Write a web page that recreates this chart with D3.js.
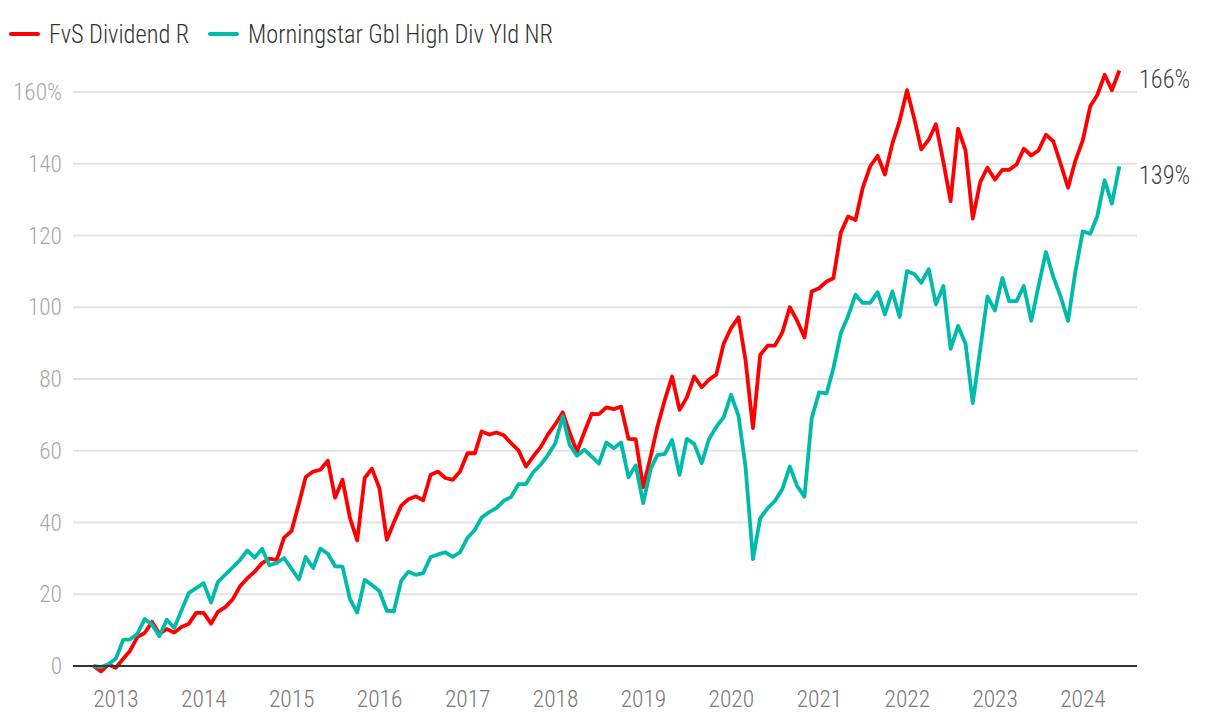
<!DOCTYPE html>
<html>
<head>
<meta charset="utf-8">
<script src="https://cdn.jsdelivr.net/npm/d3@7"></script>
<style>
  html, body { margin: 0; padding: 0; background: #fff; }
  svg { display: block; }
</style>
</head>
<body>
<svg id="chart" width="1220" height="726"></svg>
<script>
// ---------------- DATA ----------------
const seriesNames = ["FvS Dividend R", "Morningstar Gbl High Div Yld NR"];
const startMonth = "2012-09"; // first month-end observation (Sep 2012)
const fundValues = [
  0, -1.5, 0.4, -0.5, 2.0, 4.2, 8.1, 9.2, 12.3, 9.0, 10.3, 9.3, 10.9, 11.8, 14.8, 14.8,
  11.8, 15.1, 16.4, 18.5, 22.2, 24.4, 26.3, 28.7, 29.9, 29.6, 35.8, 37.6, 45.3, 52.7, 54.2, 54.7,
  57.2, 46.9, 51.9, 41.2, 35.0, 52.4, 55.0, 49.6, 35.2, 40.0, 44.7, 46.5, 47.3, 46.2, 53.3, 54.2,
  52.4, 51.9, 54.2, 59.3, 59.3, 65.4, 64.5, 65.1, 64.3, 62.1, 60.1, 55.6, 58.4, 61.0, 64.5, 67.4,
  70.7, 65.1, 59.8, 65.1, 70.3, 70.2, 72.1, 71.6, 72.3, 63.3, 63.2, 49.8, 58.4, 66.7, 74.2, 80.7,
  71.4, 74.8, 80.7, 77.7, 79.8, 81.3, 89.8, 94.2, 97.2, 85.3, 66.3, 86.7, 89.3, 89.3, 93.0, 100.0,
  96.3, 91.6, 104.4, 105.3, 107.2, 108.1, 120.8, 125.3, 124.3, 133.3, 139.3, 142.2, 137.0, 145.6, 151.9, 160.5,
  152.3, 144.0, 146.7, 151.0, 140.5, 129.6, 149.8, 143.7, 124.7, 134.9, 138.9, 135.6, 138.3, 138.3, 139.8, 144.2,
  142.3, 143.7, 148.1, 146.2, 140.0, 133.3, 140.8, 146.5, 156.0, 159.1, 164.8, 160.5, 166.0
];
const indexValues = [
  0, -0.3, 0.5, 2.0, 7.3, 7.4, 9.0, 13.1, 11.5, 8.3, 12.9, 10.6, 15.5, 20.4, 21.7, 23.1,
  17.7, 23.4, 25.5, 27.4, 29.5, 32.2, 30.2, 32.7, 28.1, 28.7, 30.1, 27.1, 24.1, 30.4, 27.3, 32.7,
  31.3, 27.8, 27.7, 18.6, 14.9, 24.0, 22.6, 20.9, 15.4, 15.2, 23.8, 26.3, 25.4, 25.9, 30.4, 31.1,
  31.7, 30.4, 31.7, 35.7, 38.0, 41.4, 42.9, 44.0, 46.1, 47.1, 50.7, 50.7, 54.0, 56.1, 58.8, 62.1,
  69.6, 61.7, 58.6, 60.3, 58.4, 56.4, 62.3, 60.7, 62.3, 52.6, 55.9, 45.4, 54.9, 58.8, 59.1, 63.0,
  53.3, 63.3, 61.9, 56.5, 63.2, 66.7, 69.3, 75.6, 69.7, 55.6, 29.8, 41.2, 44.0, 46.0, 49.3, 55.6,
  50.2, 47.2, 69.1, 76.3, 76.0, 83.0, 92.8, 97.5, 103.5, 101.2, 101.2, 104.2, 98.0, 104.4, 97.3, 110.1,
  109.2, 106.8, 110.6, 100.8, 105.9, 88.4, 94.8, 89.8, 73.3, 88.2, 103.0, 99.1, 108.2, 101.7, 101.7, 105.9,
  96.2, 105.8, 115.4, 108.4, 103.0, 96.2, 109.8, 121.2, 120.5, 125.3, 135.4, 128.9, 139.3
];
const yTicks = [0, 20, 40, 60, 80, 100, 120, 140, 160];
const xTickYears = [2013, 2014, 2015, 2016, 2017, 2018, 2019, 2020, 2021, 2022, 2023, 2024];
const endLabels = ["166%", "139%"];

// ---------------- STYLE ----------------
const colors = ["#ff0000", "#00bba9"];
const FONT = "'Roboto Condensed','Liberation Sans Narrow','DejaVu Sans Condensed','Arial Narrow',Roboto,sans-serif";

// month-end dates
const parse = d3.timeParse("%Y-%m");
const firstMonth = parse(startMonth);
const dates = fundValues.map((_, i) => d3.timeDay.offset(d3.timeMonth.offset(firstMonth, i + 1), -1));

const svg = d3.select("#chart");
const plotLeft = 73, plotRight = 1137;

const x = d3.scaleTime()
  .domain([new Date(2013, 0, 1), new Date(2024, 0, 1)])
  .range([116, 1083]);
const y = d3.scaleLinear().domain([0, 160]).range([666, 92]);

// gridlines
svg.append("g").selectAll("line").data(yTicks.filter(d => d !== 0)).join("line")
  .attr("x1", plotLeft).attr("x2", plotRight)
  .attr("y1", d => y(d)).attr("y2", d => y(d))
  .attr("stroke", "#e3e3e3").attr("stroke-width", 2);

// y labels
svg.append("g").selectAll("text").data(yTicks).join("text")
  .attr("x", 62).attr("y", d => y(d))
  .attr("text-anchor", "end").attr("dominant-baseline", "central")
  .attr("font-family", FONT).attr("font-size", 24).attr("font-weight", 300)
  .attr("fill", "#a8a8a8")
  .text(d => d === 160 ? d + "%" : d);

// x labels
svg.append("g").selectAll("text").data(xTickYears).join("text")
  .attr("x", d => x(new Date(d, 0, 1))).attr("y", 707)
  .attr("text-anchor", "middle")
  .attr("font-family", FONT).attr("font-size", 24).attr("font-weight", 300)
  .attr("fill", "#777")
  .text(d => d);

// lines
const line = d3.line().x((d, i) => x(dates[i])).y(d => y(d));
[fundValues, indexValues].forEach((vals, k) => {
  svg.append("path").datum(vals)
    .attr("d", line)
    .attr("fill", "none")
    .attr("stroke", colors[k])
    .attr("stroke-width", 3.8)
    .attr("stroke-linejoin", "round");
});

// baseline axis
svg.append("line")
  .attr("x1", plotLeft).attr("x2", plotRight)
  .attr("y1", y(0)).attr("y2", y(0))
  .attr("stroke", "#333").attr("stroke-width", 2.2);

// end labels
const lastVals = [fundValues[fundValues.length - 1], indexValues[indexValues.length - 1]];
svg.append("g").selectAll("text").data(endLabels).join("text")
  .attr("x", 1139).attr("y", (d, i) => y(lastVals[i]) + 9)
  .attr("dominant-baseline", "central")
  .attr("font-family", FONT).attr("font-size", 25).attr("font-weight", 300)
  .attr("fill", "#444")
  .text(d => d);

// legend
const legendPos = [{lx: 11, tx: 49}, {lx: 210, tx: 248}];
const lg = svg.append("g").selectAll("g").data(seriesNames).join("g");
lg.append("line")
  .attr("x1", (d, i) => legendPos[i].lx).attr("x2", (d, i) => legendPos[i].lx + 27)
  .attr("y1", 34).attr("y2", 34)
  .attr("stroke", (d, i) => colors[i]).attr("stroke-width", 4).attr("stroke-linecap", "round");
const legText = lg.append("text")
  .attr("x", (d, i) => legendPos[i].tx).attr("y", 34)
  .attr("dominant-baseline", "central")
  .attr("font-family", FONT).attr("font-size", 25).attr("font-weight", 300)
  .attr("fill", "#333")
  .text(d => d);

// condense all text uniformly so the wide legend label matches its reference width
const ref = legText.filter((d, i) => i === 1).node();
const measured = ref.getComputedTextLength();
const K = Math.min(1, 305 / measured);
svg.selectAll("text").each(function() {
  const w = this.getComputedTextLength();
  if (K < 0.999) {
    d3.select(this).attr("textLength", w * K).attr("lengthAdjust", "spacingAndGlyphs");
  }
});
</script>
</body>
</html>
